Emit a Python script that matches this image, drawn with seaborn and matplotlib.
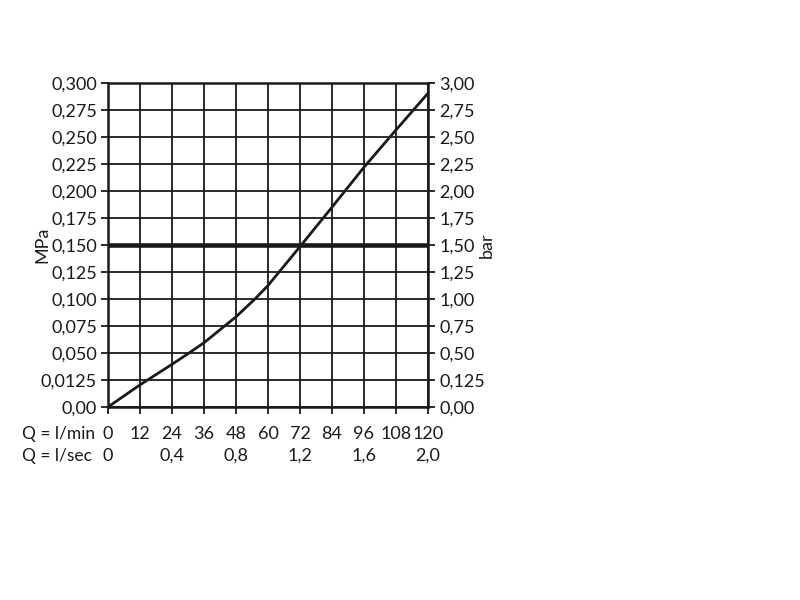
import numpy as np
import pandas as pd
import matplotlib
matplotlib.use('Agg')
import matplotlib.pyplot as plt
import matplotlib.transforms as mtransforms
import seaborn as sns

# flow (l/min) vs pressure loss (MPa)
flow_lmin = [0, 12, 24, 30.4, 36, 48, 55.1, 60, 72, 84, 96, 108, 120]
pressure_mpa = [0, 0.0205, 0.0395, 0.05, 0.0595, 0.0835, 0.1, 0.1125, 0.1485,
                0.185, 0.222, 0.2565, 0.2905]
ref_pressure = 0.150

lmin_ticks = [0, 12, 24, 36, 48, 60, 72, 84, 96, 108, 120]
lmin_labels = ['0', '12', '24', '36', '48', '60', '72', '84', '96', '108', '120']
mpa_ticks = [0, 0.025, 0.05, 0.075, 0.1, 0.125, 0.15, 0.175, 0.2, 0.225, 0.25, 0.275, 0.3]
mpa_labels = ['0,00', '0,0125', '0,050', '0,075', '0,100', '0,125', '0,150',
              '0,175', '0,200', '0,225', '0,250', '0,275', '0,300']
bar_ticks = [0, 0.25, 0.5, 0.75, 1.0, 1.25, 1.5, 1.75, 2.0, 2.25, 2.5, 2.75, 3.0]
bar_labels = ['0,00', '0,125', '0,50', '0,75', '1,00', '1,25', '1,50',
              '1,75', '2,00', '2,25', '2,50', '2,75', '3,00']
lsec_values = [0, 0.4, 0.8, 1.2, 1.6, 2.0]
lsec_labels = ['0', '0,4', '0,8', '1,2', '1,6', '2,0']

df = pd.DataFrame({'flow': flow_lmin, 'mpa': pressure_mpa})

sns.set_theme(style='white')
plt.rcParams['font.family'] = ['Lato', 'DejaVu Sans']
ink = '#1a1a1a'
fs = 13

fig = plt.figure(figsize=(8, 6), dpi=100)
ax = fig.add_axes([0.135, 0.3217, 0.4, 0.54])

sns.lineplot(data=df, x='flow', y='mpa', ax=ax, color=ink, linewidth=2)
ax.axhline(ref_pressure, color=ink, linewidth=3.3)

ax.set_xlim(0, 120)
ax.set_ylim(0, 0.3)
ax.set_xticks(lmin_ticks)
ax.set_xticklabels(lmin_labels)
ax.set_yticks(mpa_ticks)
ax.set_yticklabels(mpa_labels)
ax.grid(True, color=ink, linewidth=1.3)
ax.tick_params(direction='out', length=5, width=1.3, color=ink, labelsize=fs,
               labelcolor=ink, left=True, bottom=True)
ax.tick_params(axis='y', pad=3)
ax.tick_params(axis='x', pad=9)
for s in ax.spines.values():
    s.set_color(ink)
    s.set_linewidth(1.8)
ax.set_xlabel('')
ax.set_ylabel('MPa', fontsize=fs, color=ink)
ax.yaxis.set_label_coords(-0.206, 0.5)
ax.yaxis.label.set_va('center')

ax2 = ax.twinx()
ax2.set_ylim(0, 3)
ax2.set_yticks(bar_ticks)
ax2.set_yticklabels(bar_labels)
ax2.grid(False)
ax2.tick_params(direction='out', length=5, width=1.3, color=ink, labelsize=fs,
                labelcolor=ink, right=True, pad=3)
for s in ax2.spines.values():
    s.set_visible(False)
ax2.set_ylabel('bar', fontsize=fs, color=ink)
ax2.yaxis.set_label_coords(1.184, 0.5)
ax2.yaxis.label.set_va('center')

# row captions and l/sec row (1 l/sec = 60 l/min)
fig.text(22 / 800, 1 - 434 / 600, 'Q = l/min', ha='left', va='center', fontsize=12.5, color=ink)
fig.text(22 / 800, 1 - 456 / 600, 'Q = l/sec', ha='left', va='center', fontsize=12.5, color=ink)
trans = mtransforms.blended_transform_factory(ax.transData, fig.transFigure)
for v, lab in zip(lsec_values, lsec_labels):
    ax.text(v * 60, 1 - 456 / 600, lab, transform=trans, ha='center', va='center',
            fontsize=fs, color=ink)

fig.savefig('out.png', dpi=100, facecolor='white')
